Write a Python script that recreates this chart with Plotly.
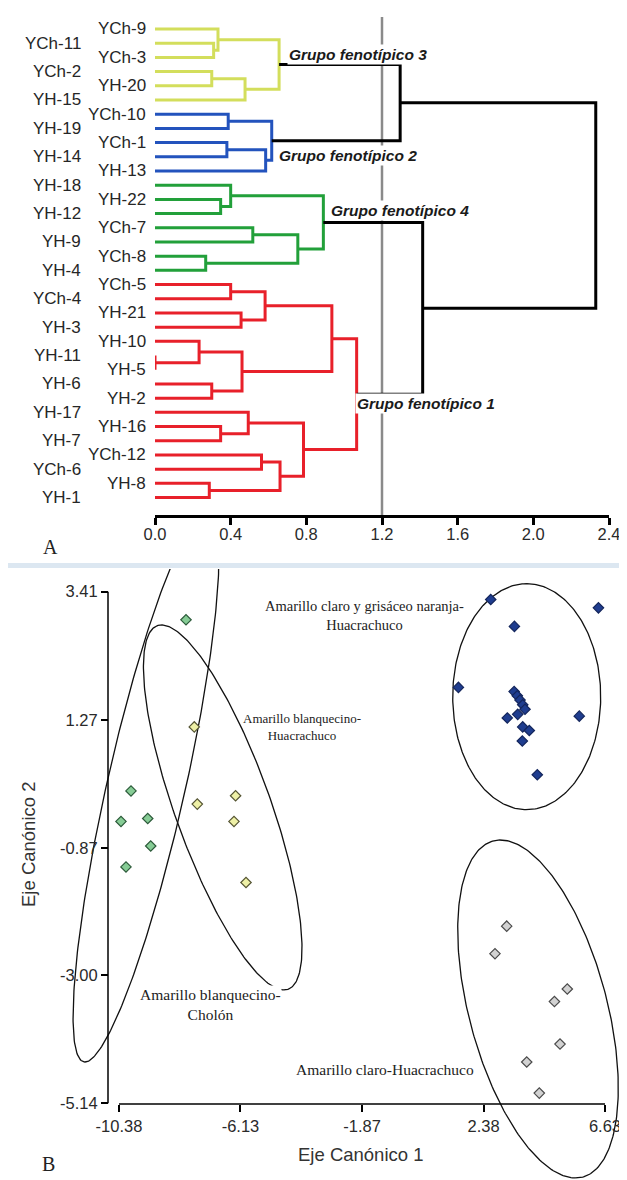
import numpy as np
import plotly.graph_objects as go

# page body adds an 8px margin, so the figure is sized to fit the 627x1180 window
OFF = 8
W, H = 627 - OFF, 1180 - OFF


def fx(p):
    return (p - OFF) / W


def fy(p):
    return 1 - (p - OFF) / H


# ---------------- Panel A : dendrogram data ----------------
leaf_labels = ["YCh-9", "YCh-11", "YCh-3", "YCh-2", "YH-20", "YH-15",
               "YCh-10", "YH-19", "YCh-1", "YH-14", "YH-13",
               "YH-18", "YH-22", "YH-12", "YCh-7", "YH-9", "YCh-8", "YH-4",
               "YCh-5", "YCh-4", "YH-21", "YH-3", "YH-10", "YH-11", "YH-5", "YH-6", "YH-2",
               "YH-17", "YH-16", "YH-7", "YCh-12", "YCh-6", "YH-8", "YH-1"]

merge_names = ["y1", "y2", "y3", "y4", "G3",
               "b1", "b2", "b3", "G2",
               "G32",
               "g1", "g2", "g3", "g4", "g5", "G4",
               "r1", "r2", "r3", "r4", "r5", "r6", "r7", "r8",
               "r9", "r10", "r11", "r12", "r13", "r14", "G1",
               "G41", "root"]
merge_left = ["YCh-11", "YCh-9", "YCh-2", "y3", "y2",
              "YCh-10", "YCh-1", "b2", "b1",
              "G3",
              "YH-22", "YH-18", "YCh-7", "YCh-8", "g3", "g2",
              "YCh-5", "YH-21", "r1", "YH-11", "YH-10", "YH-6", "r5", "r3",
              "YH-16", "YH-17", "YCh-12", "YH-8", "r11", "r10", "r8",
              "G4", "G32"]
merge_right = ["YCh-3", "y1", "YH-20", "YH-15", "y4",
               "YH-19", "YH-14", "YH-13", "b3",
               "G2",
               "YH-12", "g1", "YH-9", "YH-4", "g4", "g5",
               "YCh-4", "YH-3", "r2", "YH-5", "r4", "YH-2", "r6", "r7",
               "YH-7", "r9", "YCh-6", "YH-1", "r12", "r13", "r14",
               "G1", "G41"]
merge_height = [0.31, 0.333, 0.30, 0.476, 0.656,
                0.387, 0.38, 0.585, 0.617,
                1.296,
                0.347, 0.40, 0.517, 0.268, 0.755, 0.89,
                0.40, 0.455, 0.582, 0.0, 0.233, 0.30, 0.46, 0.935,
                0.347, 0.493, 0.563, 0.287, 0.661, 0.785, 1.066,
                1.415, 2.33]
merge_cluster = ["3"] * 5 + ["2"] * 4 + ["top"] + ["4"] * 6 + ["1"] * 15 + ["top", "top"]

cut_height = 1.2
dendro_ticks = [0.0, 0.4, 0.8, 1.2, 1.6, 2.0, 2.4]
dendro_ticktext = ["0.0", "0.4", "0.8", "1.2", "1.6", "2.0", "2.4"]

group_text = ["Grupo fenotípico 3", "Grupo fenotípico 2", "Grupo fenotípico 4", "Grupo fenotípico 1"]
group_text_x = [0.696, 0.643, 0.921, 1.058]
group_text_y = [2.83, 9.94, 13.75, 27.41]

# ---------------- Panel B : canonical scores ----------------
green_x = [-8.035, -9.96, -10.31, -9.375, -9.27, -10.135]
green_y = [2.94, 0.08, -0.43, -0.38, -0.84, -1.19]
yellow_x = [-7.745, -7.64, -6.30, -6.355, -5.935]
yellow_y = [1.15, -0.14, 0.0, -0.43, -1.45]
blue_x = [2.63, 6.40, 3.46, 1.50, 3.45, 3.56, 3.655, 3.75, 3.83, 3.575, 3.21, 3.75, 3.98, 3.735, 5.73, 4.26]
blue_y = [3.28, 3.14, 2.83, 1.81, 1.74, 1.67, 1.60, 1.52, 1.445, 1.36, 1.30, 1.15, 1.09, 0.915, 1.33, 0.35]
gray_x = [3.19, 2.78, 5.31, 4.86, 5.055, 3.89, 4.33]
gray_y = [-2.18, -2.64, -3.23, -3.44, -4.15, -4.45, -4.97]

# confidence ellipses: centre and two conjugate semi-diameters (data units)
ell_cx = [-9.435, -6.75, 3.89, 4.285]
ell_cy = [0.146, -0.196, 1.655, -3.564]
ell_ux = [-2.135, 2.139, 0.0, 1.3125]
ell_uy = [-4.596, -3.050, 1.888, -2.824]
ell_vx = [1.40, 1.768, 2.59, 2.485]
ell_vy = [0.0, 0.0, 0.0, 0.0]

canon_x_ticks = [-10.38, -6.13, -1.87, 2.38, 6.63]
canon_y_ticks = [3.41, 1.27, -0.87, -3.00, -5.14]

group_labels_b = ["Amarillo claro y grisáceo naranja-<br>Huacrachuco",
                  "Amarillo blanquecino-<br>Huacrachuco",
                  "Amarillo blanquecino-<br>Cholón",
                  "Amarillo claro-Huacrachuco"]
group_labels_b_x = [-1.805, -3.975, -7.195, -1.07]
group_labels_b_y = [3.004, 1.141, -3.488, -4.583]

# ---------------- styles ----------------
cluster_colors = {"3": "#d3de5c", "2": "#2353bd", "4": "#22a03a", "1": "#e8202a", "top": "#000000"}
SANS = "Liberation Sans, Arial, sans-serif"
SERIF = "Liberation Serif, Times New Roman, serif"

fig = go.Figure()

# cut line
fig.add_trace(go.Scatter(x=[cut_height, cut_height], y=[0.155, 35.23], mode="lines",
                         line=dict(color="#8a8a8a", width=2.5), xaxis="x", yaxis="y",
                         hoverinfo="skip", showlegend=False))

# build dendrogram
pos = {lab: i + 1 for i, lab in enumerate(leaf_labels)}
hgt = {lab: 0.0 for lab in leaf_labels}
segs = {k: ([], []) for k in cluster_colors}
for n, l, r, h, c in zip(merge_names, merge_left, merge_right, merge_height, merge_cluster):
    xs, ys = segs[c]
    xs += [hgt[l], h, h, hgt[r], None]
    ys += [pos[l], pos[l], pos[r], pos[r], None]
    pos[n] = (pos[l] + pos[r]) / 2
    hgt[n] = h
for c in ["3", "2", "4", "1", "top"]:
    xs, ys = segs[c]
    fig.add_trace(go.Scatter(x=xs, y=ys, mode="lines",
                             line=dict(color=cluster_colors[c], width=3),
                             xaxis="x", yaxis="y", hoverinfo="skip", showlegend=False))

annotations = []
for i, lab in enumerate(leaf_labels):
    right_col = (i % 2 == 0)
    annotations.append(dict(x=0, y=i + 1, xref="x", yref="y", text=lab, showarrow=False,
                            xanchor="right", yanchor="middle",
                            xshift=-7 if right_col else -72,
                            font=dict(family=SANS, size=17, color="#262626")))
for t, gx, gy in zip(group_text, group_text_x, group_text_y):
    annotations.append(dict(x=gx, y=gy, xref="x", yref="y", text=t, showarrow=False,
                            xanchor="left", yanchor="middle", bgcolor="white", borderpad=1,
                            font=dict(family=SANS, size=15.5, color="#1a1a1a",
                                      style="italic", weight="bold")))

# ---------------- Panel B ----------------
t = np.linspace(0, 2 * np.pi, 300)
for cx, cy, ux, uy, vx, vy in zip(ell_cx, ell_cy, ell_ux, ell_uy, ell_vx, ell_vy):
    fig.add_trace(go.Scatter(x=cx + ux * np.cos(t) + vx * np.sin(t),
                             y=cy + uy * np.cos(t) + vy * np.sin(t),
                             mode="lines", line=dict(color="#111111", width=1.3),
                             xaxis="x2", yaxis="y2", hoverinfo="skip", showlegend=False))

point_sets = [(green_x, green_y, "#86cc95", "#2c5a3a"),
              (yellow_x, yellow_y, "#eef0a6", "#555533"),
              (gray_x, gray_y, "#d2d2d2", "#4a4a4a"),
              (blue_x, blue_y, "#1f3d8f", "#14265c")]
for px, py, fc, lc in point_sets:
    fig.add_trace(go.Scatter(x=px, y=py, mode="markers",
                             marker=dict(symbol="diamond", size=8, color=fc,
                                         line=dict(color=lc, width=1.2)),
                             xaxis="x2", yaxis="y2", hoverinfo="skip", showlegend=False))

fs = [14.5, 13, 15.5, 15.5]
bgs = ["rgba(0,0,0,0)", "rgba(0,0,0,0)", "white", "rgba(0,0,0,0)"]
for txt, gx, gy, f, bg in zip(group_labels_b, group_labels_b_x, group_labels_b_y, fs, bgs):
    annotations.append(dict(x=gx, y=gy, xref="x2", yref="y2", text=txt, showarrow=False,
                            xanchor="center", yanchor="middle", align="center", bgcolor=bg,
                            borderpad=0,
                            font=dict(family=SERIF, size=f, color="#222222")))

# axis titles and panel letters
annotations += [
    dict(x=fx(360), y=fy(1154), xref="paper", yref="paper", text="Eje Canónico 1",
         xanchor="center", yanchor="middle",
         showarrow=False, font=dict(family=SANS, size=18.5, color="#333333")),
    dict(x=fx(28), y=fy(845), xref="paper", yref="paper", text="Eje Canónico 2",
         xanchor="center", yanchor="middle",
         showarrow=False, textangle=-90, font=dict(family=SANS, size=18.5, color="#333333")),
    dict(x=fx(50), y=fy(547), xref="paper", yref="paper", text="A",
         xanchor="center", yanchor="middle",
         showarrow=False, font=dict(family=SERIF, size=20, color="#222222")),
    dict(x=fx(48), y=fy(1164), xref="paper", yref="paper", text="B",
         xanchor="center", yanchor="middle",
         showarrow=False, font=dict(family=SERIF, size=20, color="#222222")),
]

shapes = [
    dict(type="rect", xref="paper", yref="paper", x0=0, x1=1, y0=fy(568), y1=fy(563),
         fillcolor="#dce7f1", line=dict(width=0), layer="below"),
    dict(type="line", xref="x2", yref="paper", x0=canon_x_ticks[0], x1=canon_x_ticks[-1],
         y0=fy(1104), y1=fy(1104), line=dict(color="black", width=1.5)),
    dict(type="line", xref="paper", yref="y2", x0=fx(108), x1=fx(108),
         y0=canon_y_ticks[-1], y1=canon_y_ticks[0], line=dict(color="black", width=1.5)),
]

fig.update_layout(
    template="none",
    width=W, height=H, margin=dict(l=0, r=0, t=0, b=0, pad=0, autoexpand=False),
    paper_bgcolor="white", plot_bgcolor="rgba(0,0,0,0)", showlegend=False,
    xaxis=dict(domain=[fx(155), fx(609)], range=[0, 2.4], anchor="y", automargin=False,
               tickvals=dendro_ticks, ticktext=dendro_ticktext, ticks="outside",
               ticklen=7, tickwidth=2.5, tickcolor="black", showline=True, linewidth=2.5,
               linecolor="black", showgrid=False, zeroline=False, ticklabelstandoff=-5,
               tickfont=dict(family=SANS, size=16.5, color="#2a2a2a")),
    yaxis=dict(domain=[fy(515), fy(17)], range=[35.23, 0.155], visible=False,
               automargin=False, showgrid=False, zeroline=False),
    xaxis2=dict(domain=[0, 1], range=[-14.265, 7.40], anchor="free", position=fy(1104),
                automargin=False,
                tickvals=canon_x_ticks, ticktext=["%.2f" % v for v in canon_x_ticks],
                ticks="outside", ticklen=7, tickwidth=1.5, tickcolor="black",
                showline=False, showgrid=False, zeroline=False,
                tickfont=dict(family=SANS, size=16.5, color="#2a2a2a")),
    yaxis2=dict(domain=[0, fy(569)], range=[-6.422, 3.789], anchor="free", position=fx(108),
                automargin=False,
                tickvals=canon_y_ticks, ticktext=["%.2f" % v for v in canon_y_ticks],
                ticks="outside", ticklen=7, tickwidth=1.5, tickcolor="black",
                showline=False, showgrid=False, zeroline=False,
                tickfont=dict(family=SANS, size=16.5, color="#2a2a2a")),
    annotations=annotations, shapes=shapes,
)

fig.write_html("out.html")
